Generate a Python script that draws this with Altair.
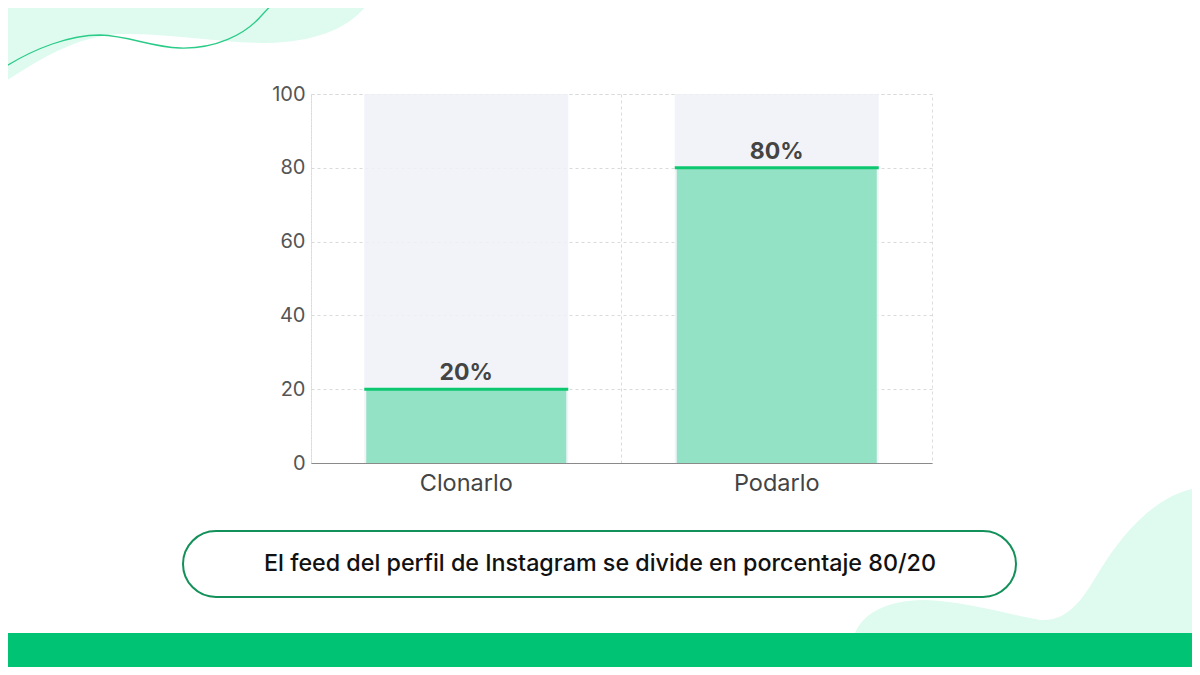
import altair as alt
import pandas as pd

# ---- data ----
categories = ["Clonarlo", "Podarlo"]
values = [20, 80]
value_labels = ["20%", "80%"]
full_scale = [100, 100]
y_ticks = [0, 20, 40, 60, 80, 100]
caption = "El feed del perfil de Instagram se divide en porcentaje 80/20"

df = pd.DataFrame({"cat": categories, "val": values, "lab": value_labels, "full": full_scale})
one = pd.DataFrame({"k": [0]})

# ---- layout (page pixels) ----
PX0, PY0 = 311, 94          # plot-area origin on the page
W, H = 621, 369
FONT = "Inter"


def shape_path(points_cmds, cx, cy, s=200.0):
    """Convert a page-pixel SVG path (list of (cmd, [x,y,...])) to unit coords."""
    out = []
    for cmd, nums in points_cmds:
        coords = []
        for i in range(0, len(nums), 2):
            coords.append(f"{(nums[i]-cx)/s:.4f},{(nums[i+1]-cy)/s:.4f}")
        out.append(cmd + " ".join(coords))
    return " ".join(out) + ""


def deco_point(path_cmds, cx, cy, closed, **kw):
    p = shape_path(path_cmds, cx, cy) + (" Z" if closed else "")
    return alt.Chart(one).mark_point(shape=p, size=(2 * 200) ** 2, opacity=1, **kw).encode(
        x=alt.value(cx - PX0), y=alt.value(cy - PY0)
    )


MINT = "#DFFBEF"

blob_tl = deco_point(
    [("M", [0, 0]), ("L", [370, 0]), ("C", [355, 25, 320, 42, 267, 43]),
     ("C", [220, 43, 170, 33, 120, 34]), ("C", [75, 36, 35, 62, 0, 85])],
    200, 200, True, filled=True, color=MINT, strokeWidth=0)

line_tl = deco_point(
    [("M", [3, 68]), ("C", [35, 48, 70, 35, 100, 35]), ("C", [130, 36, 150, 47, 180, 48]),
     ("C", [215, 49, 245, 35, 262, 15]), ("L", [276, 0])],
    200, 200, False, filled=False, color="#2BCB88", strokeWidth=1.3)

blob_br = deco_point(
    [("M", [850, 680]), ("L", [853, 640]), ("C", [858, 615, 885, 600, 925, 600]),
     ("C", [970, 602, 1010, 615, 1040, 620]), ("C", [1070, 622, 1085, 595, 1100, 570]),
     ("C", [1125, 530, 1160, 490, 1205, 487]), ("L", [1205, 680])],
    1025, 575, True, filled=True, color=MINT, strokeWidth=0)

# ---- chart ----
x_enc = alt.X("cat:N", sort=categories, title=None,
              scale=alt.Scale(paddingInner=0, paddingOuter=0),
              axis=alt.Axis(labelAngle=0, ticks=False, labelFontSize=23.5, labelFont=FONT,
                            labelColor="#444444", labelPadding=8, domainColor="#8A8A8A",
                            domainWidth=1.2, grid=True, bandPosition=0, gridColor="#DADADA",
                            gridDash=[3, 3], gridWidth=1))
y_scale = alt.Scale(domain=[0, 100], nice=False)
y_axis = alt.Axis(values=y_ticks, ticks=False, domain=False, labelFontSize=20, labelFont=FONT,
                  labelColor="#555555", labelPadding=6, grid=True, gridColor="#DADADA",
                  gridDash=[3, 3], gridWidth=1)

base = alt.Chart(df)
bg = base.mark_bar(size=204, color="#F0F1F7", opacity=0.85).encode(
    x=x_enc, y=alt.Y("full:Q", scale=y_scale, axis=y_axis, title=None))
bars = base.mark_bar(size=200, color="#93E2C5").encode(
    x=x_enc, y=alt.Y("val:Q", scale=y_scale, title=None))
ticks = base.mark_tick(size=204, thickness=3, color="#0DC770", opacity=1).encode(
    x=x_enc, y=alt.Y("val:Q", scale=y_scale, title=None))
labels = base.mark_text(font=FONT, fontSize=23, fontWeight="bold", color="#444444",
                        baseline="alphabetic", dy=-9).encode(
    x=x_enc, y=alt.Y("val:Q", scale=y_scale, title=None), text="lab:N")

box = alt.Chart(one).mark_rect(cornerRadius=33, fill="white", stroke="#14905A",
                               strokeWidth=2).encode(
    x=alt.value(183 - PX0), x2=alt.value(1016 - PX0),
    y=alt.value(531 - PY0), y2=alt.value(597 - PY0))
cap = alt.Chart(one).mark_text(font=FONT, fontSize=23.3, fontWeight=500, color="#111111",
                               align="center", baseline="middle").encode(
    x=alt.value(600 - PX0), y=alt.value(564 - PY0), text=alt.value(caption))
band = alt.Chart(one).mark_rect(color="#00C473").encode(
    x=alt.value(-PX0), x2=alt.value(1200 - PX0),
    y=alt.value(633 - PY0), y2=alt.value(680 - PY0))

chart = alt.layer(blob_tl, line_tl, blob_br, bg, bars, ticks, labels, box, cap, band).properties(
    width=W, height=H,
    autosize=alt.AutoSizeParams(type="none"),
    padding={"left": PX0 - 8, "top": PY0 - 8, "right": 1192 - PX0 - W, "bottom": 667 - PY0 - H},
    background="white",
).configure_view(stroke="#DDDDDD", strokeDash=[3, 3], strokeWidth=1)

chart.save("out.html", embed_options={"renderer": "svg", "actions": False})
